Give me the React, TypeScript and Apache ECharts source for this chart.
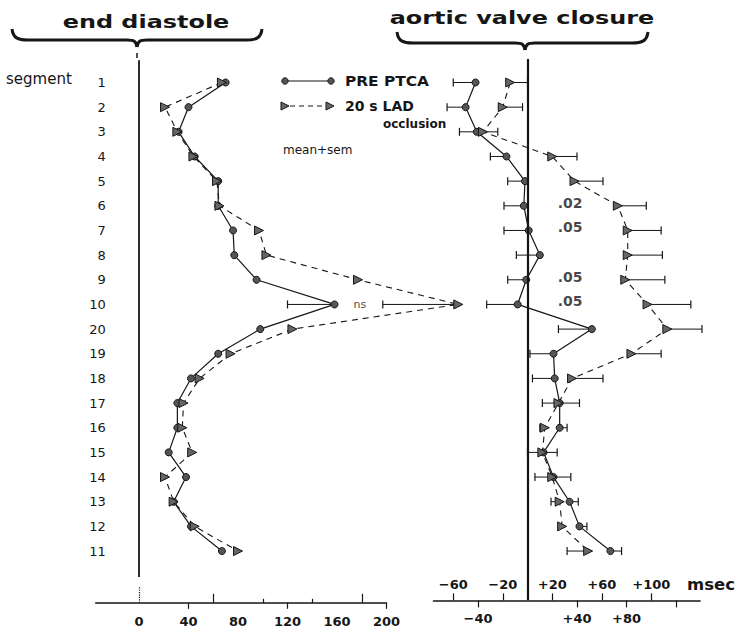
import React, { useEffect, useRef } from 'react';
import * as echarts from 'echarts';

// ---- data ----
const segments = ['1', '2', '3', '4', '5', '6', '7', '8', '9', '10', '20', '19', '18', '17', '16', '15', '14', '13', '12', '11'];
// end diastole (left panel)
const edPre = [70, 40, 32, 45, 64, 64, 76, 77, 95, 158, 98, 64, 42, 31, 31, 24, 38, 28, 42, 67];
const edOcc = [67, 21, 31, 44, 63, 65, 97, 103, 177, 258, 124, 74, 49, 36, 35, 43, 21, 28, 45, 80];
const edErrSegment = '10';
const edPreErrEnd = 120;
const edOccErrEnd = 197;
// aortic valve closure, msec (right panel)
const avcPre = [-42, -50, -41, -17, -2, -3, 1, 10, -1, -8, 52, 21, 22, 26, 26, 13, 21, 34, 42, 67];
const avcPreEnd = [-60, -65, -55, -30, -16, -19, -19, -9, -16, -33, 25, 2, 4, 42, 32, 24, 35, 41, 48, 76];
const avcOcc = [-14, -20, -36, 20, 38, 73, 81, 81, 79, 97, 113, 84, 36, 25, 14, 12, 20, 26, 28, 49];
const avcOccEnd = [0, -4, -24, 40, 61, 96, 108, 109, 111, 132, 141, 108, 61, 12, 10, 0, 6, 19, 25, 32];
const pSegments = ['6', '7', '9', '10'];
const pLabels = ['.02', '.05', '.05', '.05'];
const edTickLabels = [0, 40, 80, 120, 160, 200];
const avcUpperTicks = [-60, -20, 20, 60, 100];
const avcLowerTicks = [-40, 40, 80, 120];
const avcLowerLabels = [-40, 40, 80];

// ---- layout ----
const K = 1.2375; // px per unit
const ROW = 24.66;
const ROW1 = 82.5;
const TOP = ROW1 - ROW;
const ED_ZERO = 139;
const AVC_ZERO = 527.5;
const ED_MIN = -35, ED_MAX = 200, ED_DATA_MAX = 270;
const AVC_MIN = -76, AVC_MAX = 139.5;
const FONT = 'DejaVu Sans';
const INK = '#161616';

const idx = (s: string) => segments.indexOf(s);

const errRender = (_p: any, api: any) => {
  const y = api.value(1);
  const a = api.coord([api.value(0), y]);
  const b = api.coord([api.value(2), y]);
  return {
    type: 'group',
    children: [
      { type: 'line', shape: { x1: a[0], y1: a[1], x2: b[0], y2: b[1] }, style: { stroke: INK, lineWidth: 1 } },
      { type: 'line', shape: { x1: b[0], y1: b[1] - 4, x2: b[0], y2: b[1] + 4 }, style: { stroke: INK, lineWidth: 1.2 } },
    ],
  };
};

const signed = (v: number) => (v > 0 ? '+' + v : v < 0 ? '\u2212' + Math.abs(v) : '0');

function brace(x0: number, x1: number, yTop: number, yH: number, yTip: number, mid: number) {
  const st = { stroke: INK, lineWidth: 3, fill: 'none' };
  return [
    { type: 'bezierCurve', shape: { x1: x0, y1: yTop, cpx1: x0 + 1, cpy1: yH - 2, cpx2: x0 + 6, cpy2: yH, x2: x0 + 16, y2: yH }, style: st },
    { type: 'line', shape: { x1: x0 + 16, y1: yH, x2: mid - 10, y2: yH }, style: st },
    { type: 'bezierCurve', shape: { x1: mid - 10, y1: yH, cpx1: mid - 3, cpy1: yH, cpx2: mid - 1, cpy2: yH + 1, x2: mid, y2: yTip }, style: st },
    { type: 'bezierCurve', shape: { x1: mid, y1: yTip, cpx1: mid + 1, cpy1: yH + 1, cpx2: mid + 3, cpy2: yH, x2: mid + 10, y2: yH }, style: st },
    { type: 'line', shape: { x1: mid + 10, y1: yH, x2: x1 - 16, y2: yH }, style: st },
    { type: 'bezierCurve', shape: { x1: x1 - 16, y1: yH, cpx1: x1 - 6, cpy1: yH, cpx2: x1 - 1, cpy2: yH - 2, x2: x1, y2: yTop }, style: st },
  ];
}

const txt = (text: string, x: number, y: number, size: number, weight: string, align = 'left', scaleX = 1) => ({
  type: 'text',
  x,
  y,
  scaleX,
  style: { text, x: 0, y: 0, font: `${weight} ${size}px "${FONT}"`, fill: INK, textAlign: align, textVerticalAlign: 'middle' },
});

const hiddenX = (grid: number, min: number, max: number, ticks: number[], len: number, dotted = false) => ({
  type: 'value', gridIndex: grid, min, max, position: 'bottom',
  axisLine: { show: false, onZero: false },
  axisTick: { show: true, inside: true, customValues: ticks, length: len, lineStyle: { color: INK, width: 1.2, type: dotted ? 'dotted' : 'solid' } },
  axisLabel: { show: false },
  splitLine: { show: false },
});

const labelStyle = { fontFamily: FONT, fontSize: 13, fontWeight: 'bold' as const, color: INK };

const option: any = {
  animation: false,
  backgroundColor: '#fff',
  grid: [
    // 0: end diastole data (wide enough for the 258 value)
    { left: ED_ZERO + ED_MIN * K, width: (ED_DATA_MAX - ED_MIN) * K, top: TOP, height: 22.1 * ROW },
    // 1: aortic valve closure
    { left: AVC_ZERO + AVC_MIN * K, width: (AVC_MAX - AVC_MIN) * K, top: TOP, height: 22 * ROW },
    // 2: end diastole visible axis
    { left: ED_ZERO + ED_MIN * K, width: (ED_MAX - ED_MIN) * K, top: TOP, height: 22.1 * ROW },
  ],
  xAxis: [
    {
      type: 'value', gridIndex: 0, min: ED_MIN, max: ED_DATA_MAX, show: false,
      axisLine: { show: false, onZero: false }, splitLine: { show: false },
    },
    {
      type: 'value', gridIndex: 2, min: ED_MIN, max: ED_MAX, position: 'bottom',
      axisLine: { show: true, onZero: false, lineStyle: { color: INK, width: 1.5 } },
      axisTick: { show: true, inside: false, customValues: [40, 120, 200], length: 6, lineStyle: { color: INK, width: 1.2 } },
      axisLabel: { show: true, customValues: edTickLabels, margin: 12, ...labelStyle },
      splitLine: { show: false },
    },
    hiddenX(2, ED_MIN, ED_MAX, [60, 180], 9),
    hiddenX(2, ED_MIN, ED_MAX, [0], 16, true),
    hiddenX(2, ED_MIN, ED_MAX, [100, 140], 4),
    {
      type: 'value', gridIndex: 1, min: AVC_MIN, max: AVC_MAX, position: 'bottom',
      axisLine: { show: true, onZero: false, lineStyle: { color: INK, width: 1.5 } },
      axisTick: { show: true, inside: true, customValues: avcUpperTicks, length: 7, lineStyle: { color: INK, width: 1.2 } },
      axisLabel: { show: true, inside: true, customValues: avcUpperTicks, margin: 9, formatter: signed, ...labelStyle },
      splitLine: { show: false },
    },
    {
      type: 'value', gridIndex: 1, min: AVC_MIN, max: AVC_MAX, position: 'bottom',
      axisLine: { show: false, onZero: false },
      axisTick: { show: true, inside: false, customValues: avcLowerTicks, length: 7, lineStyle: { color: INK, width: 1.2 } },
      axisLabel: { show: true, customValues: avcLowerLabels, margin: 12, formatter: signed, ...labelStyle },
      splitLine: { show: false },
    },
  ],
  yAxis: [
    {
      type: 'value', gridIndex: 0, inverse: true, min: -1, max: 21.1, interval: 1, offset: -12,
      axisLine: { show: false, onZero: false }, axisTick: { show: false }, splitLine: { show: false },
      axisLabel: {
        margin: 2, fontFamily: FONT, fontSize: 13, color: INK, padding: [0, 0, 7, 0],
        formatter: (v: number) => (Number.isInteger(v) && v >= 0 && v < segments.length ? segments[v] : ''),
      },
    },
    {
      type: 'value', gridIndex: 1, inverse: true, min: -1, max: 21, interval: 1, show: false,
      axisLine: { show: false, onZero: false }, splitLine: { show: false },
    },
    {
      type: 'value', gridIndex: 2, inverse: true, min: -1, max: 21.1, interval: 1, show: false,
      axisLine: { show: false, onZero: false }, splitLine: { show: false },
    },
  ],
  series: [
    {
      type: 'custom', name: 'ed sem', xAxisIndex: 0, yAxisIndex: 0, renderItem: errRender,
      encode: { x: [0, 2], y: 1 }, clip: false, silent: true,
      data: [
        [edPre[idx(edErrSegment)], idx(edErrSegment), edPreErrEnd],
        [edOcc[idx(edErrSegment)], idx(edErrSegment), edOccErrEnd],
      ],
    },
    {
      type: 'line', name: 'PRE PTCA', xAxisIndex: 0, yAxisIndex: 0, clip: false,
      data: edPre.map((v, i) => [v, i]),
      symbol: 'circle', symbolSize: 7,
      lineStyle: { color: INK, width: 1.2 },
      itemStyle: { color: '#555', borderColor: INK, borderWidth: 1 },
      markLine: {
        silent: true, symbol: ['none', 'none'], label: { show: false },
        lineStyle: { color: INK, width: 1.8, type: 'solid' },
        data: [[{ coord: [0, -0.9] }, { coord: [0, 20.05] }]],
      },
    },
    {
      type: 'line', name: '20 s LAD occlusion', xAxisIndex: 0, yAxisIndex: 0, clip: false,
      data: edOcc.map((v, i) => [v, i]),
      symbol: 'triangle', symbolRotate: -90, symbolSize: 9,
      lineStyle: { color: INK, width: 1.1, type: [6, 5] },
      itemStyle: { color: '#666', borderColor: INK, borderWidth: 1 },
    },
    {
      type: 'scatter', name: 'ns', xAxisIndex: 0, yAxisIndex: 0, symbolSize: 1, silent: true,
      itemStyle: { color: 'rgba(0,0,0,0)' },
      data: [{ value: [173, idx(edErrSegment)], name: 'ns' }],
      label: { show: true, position: 'right', distance: 0, formatter: '{b}', fontFamily: FONT, fontSize: 11, color: INK },
    },
    {
      type: 'custom', name: 'avc sem', xAxisIndex: 5, yAxisIndex: 1, renderItem: errRender,
      encode: { x: [0, 2], y: 1 }, clip: false, silent: true,
      data: [
        ...avcPre.map((v, i) => [v, i, avcPreEnd[i]]),
        ...avcOcc.map((v, i) => [v, i, avcOccEnd[i]]),
      ],
    },
    {
      type: 'line', name: 'PRE PTCA avc', xAxisIndex: 5, yAxisIndex: 1, clip: false,
      data: avcPre.map((v, i) => [v, i]),
      symbol: 'circle', symbolSize: 7,
      lineStyle: { color: INK, width: 1.2 },
      itemStyle: { color: '#555', borderColor: INK, borderWidth: 1 },
      markLine: {
        silent: true, symbol: ['none', 'none'], label: { show: false },
        lineStyle: { color: INK, width: 2.2, type: 'solid' },
        data: [[{ coord: [0, -0.95] }, { coord: [0, 21] }]],
      },
    },
    {
      type: 'line', name: 'occlusion avc', xAxisIndex: 5, yAxisIndex: 1, clip: false,
      data: avcOcc.map((v, i) => [v, i]),
      symbol: 'triangle', symbolRotate: -90, symbolSize: 9,
      lineStyle: { color: INK, width: 1.1, type: [6, 5] },
      itemStyle: { color: '#666', borderColor: INK, borderWidth: 1 },
    },
    {
      type: 'scatter', name: 'p', xAxisIndex: 5, yAxisIndex: 1, symbolSize: 1, silent: true,
      itemStyle: { color: 'rgba(0,0,0,0)' },
      data: pSegments.map((s, i) => ({ value: [24, idx(s)], name: pLabels[i] })),
      label: { show: true, position: 'right', distance: 0, offset: [0, -3], formatter: '{b}', fontFamily: FONT, fontSize: 14, fontWeight: 'bold', color: INK },
    },
  ],
  graphic: [
    ...brace(12, 262, 29, 40, 47, 137),
    ...brace(397, 648, 32, 43, 50, 525),
    { type: 'line', shape: { x1: 137, y1: 53, x2: 137, y2: 58 }, style: { stroke: INK, lineWidth: 1.5 } },
    txt('end diastole', 146, 22, 18, 'bold', 'center', 1.33),
    txt('aortic valve closure', 522, 18, 18, 'bold', 'center', 1.33),
    txt('segment', 6, 79, 15, 'normal'),
    txt('msec', 687, 585, 15, 'bold', 'left', 1.1),
    // legend
    { type: 'line', shape: { x1: 285, y1: 81, x2: 331, y2: 81 }, style: { stroke: INK, lineWidth: 1.2 } },
    { type: 'circle', shape: { cx: 285, cy: 81, r: 3.2 }, style: { fill: '#555', stroke: INK, lineWidth: 1 } },
    { type: 'circle', shape: { cx: 331, cy: 81, r: 3.2 }, style: { fill: '#555', stroke: INK, lineWidth: 1 } },
    { type: 'line', shape: { x1: 290, y1: 106, x2: 326, y2: 106 }, style: { stroke: INK, lineWidth: 1.1, lineDash: [5, 4] } },
    { type: 'polygon', shape: { points: [[281, 102], [281, 110], [289, 106]] }, style: { fill: '#666', stroke: INK, lineWidth: 1 } },
    { type: 'polygon', shape: { points: [[326, 102], [326, 110], [334, 106]] }, style: { fill: '#666', stroke: INK, lineWidth: 1 } },
    txt('PRE PTCA', 345, 81, 14, 'bold', 'left', 1.1),
    txt('20 s LAD', 345, 106, 14, 'bold', 'left', 1.0),
    txt('occlusion', 383, 124, 12, 'bold'),
    txt('mean+sem', 283, 150, 12, 'normal'),
  ],
};

export default function App() {
  const ref = useRef<HTMLDivElement>(null);
  useEffect(() => {
    if (!ref.current) return;
    const chart = echarts.init(ref.current, null, { renderer: 'svg' });
    chart.setOption(option);
    return () => chart.dispose();
  }, []);
  return (
    <div
      ref={ref}
      style={{ position: 'absolute', left: 0, top: 0, width: 738, height: 633, background: '#fff' }}
    />
  );
}
